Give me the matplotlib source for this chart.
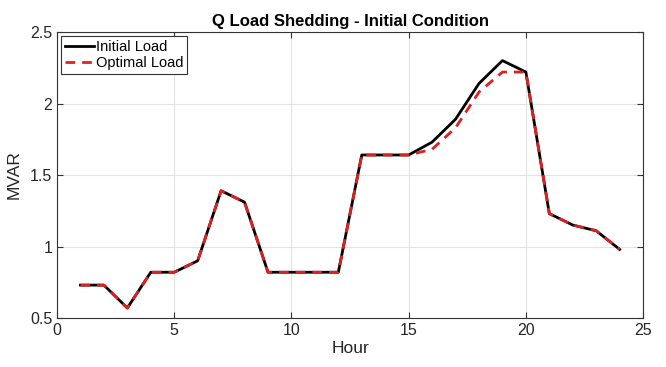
import matplotlib
matplotlib.use("Agg")
import matplotlib.pyplot as plt

plt.rcParams["font.family"] = ["Liberation Sans", "DejaVu Sans"]

horas = list(range(1, 25))
carga_inicial = [0.73, 0.73, 0.57, 0.82, 0.82, 0.90, 1.39, 1.31, 0.82, 0.82, 0.82, 0.82,
                 1.64, 1.64, 1.64, 1.73, 1.89, 2.14, 2.30, 2.22, 1.23, 1.15, 1.11, 0.98]
carga_optima = [0.73, 0.73, 0.57, 0.82, 0.82, 0.90, 1.39, 1.31, 0.82, 0.82, 0.82, 0.82,
                1.64, 1.64, 1.64, 1.68, 1.83, 2.08, 2.22, 2.22, 1.23, 1.15, 1.11, 0.98]

fig = plt.figure(figsize=(6.66, 3.67), dpi=100)
ax = fig.add_axes([0.0856, 0.1335, 0.88, 0.7793])

ax.plot(horas, carga_inicial, color="black", linewidth=2, label="Initial Load")
ax.plot(horas, carga_optima, color="#e02020", linewidth=2, linestyle=(0, (3.5, 2.5)),
        label="Optimal Load")

ax.set_xlim(0, 25)
ax.set_ylim(0.5, 2.5)
ax.set_xticks([0, 5, 10, 15, 20, 25])
ax.set_yticks([0.5, 1, 1.5, 2, 2.5])
ax.set_yticklabels(["0.5", "1", "1.5", "2", "2.5"])
ax.grid(True, color="#e3e3e3", linewidth=0.8)
ax.set_axisbelow(True)
ax.tick_params(direction="in", top=True, right=True, length=4, labelsize=11.5,
               color="#333333", labelcolor="#262626")
for spine in ax.spines.values():
    spine.set_edgecolor("#333333")
    spine.set_linewidth(0.8)

ax.set_xlabel("Hour", fontsize=12.5, color="#262626", labelpad=2)
ax.set_ylabel("MVAR", fontsize=12.5, color="#262626", labelpad=6)
ax.set_title("Q Load Shedding - Initial Condition", fontsize=12, fontweight="bold", pad=4)

leg = ax.legend(loc="upper left", fontsize=10.5, handlelength=2, handletextpad=0.1,
                borderpad=0.25, labelspacing=0.15, borderaxespad=0.3, fancybox=False,
                framealpha=1)
leg.get_frame().set_edgecolor("#333333")
leg.get_frame().set_linewidth(0.8)

fig.savefig("out.png", dpi=100)
